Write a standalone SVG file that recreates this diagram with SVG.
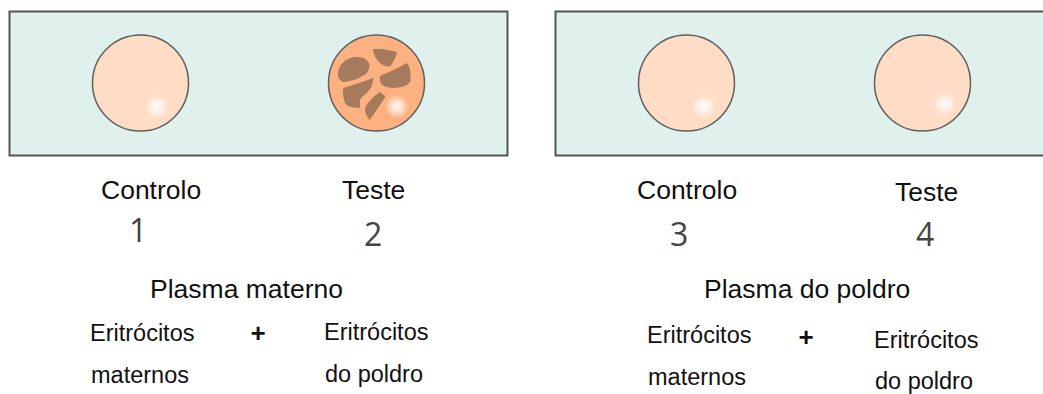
<svg xmlns="http://www.w3.org/2000/svg" width="1043" height="394" viewBox="0 0 1043 394">
  <style>
    .slide { fill: #e0f1ed; stroke: #555; stroke-width: 2; }
    .well { stroke: #5f5f5f; stroke-width: 1.5; }
    .pale { fill: #fedcc6; }
    .react { fill: #fdb181; }
    .clump { fill: #a67a5c; stroke: #a67a5c; stroke-width: 1; stroke-linejoin: round; }
    text { font-family: "Liberation Sans", Arial, sans-serif; fill: #111; }
    .lab { font-size: 26.5px; }
    .small { font-size: 23.5px; }
    .plus { font-size: 26px; font-weight: bold; text-anchor: middle; }
    .num { font-family: "Open Sans", "Noto Sans", sans-serif; font-size: 32px; fill: #444; }
  </style>
  <defs>
    <radialGradient id="shine">
      <stop offset="0" stop-color="#fff" stop-opacity=".9"/>
      <stop offset=".45" stop-color="#fff" stop-opacity=".6"/>
      <stop offset="1" stop-color="#fff" stop-opacity="0"/>
    </radialGradient>
  </defs>
  <g id="slide-left">
    <rect class="slide" x="9.500" y="11.500" width="498" height="144"/>
  </g>
  <g id="slide-right">
    <rect class="slide" x="555.500" y="11.500" width="500" height="144"/>
  </g>
  <g id="well-1">
    <circle class="well pale" cx="140.500" cy="83" r="48"/>
    <circle cx="157" cy="106.500" r="12" fill="url(#shine)"/>
  </g>
  <g id="well-2">
    <circle class="well react" cx="376.500" cy="83" r="48"/>
    <g class="clump">
      <path d="M338.500 73.500C339 65 345 59 355 57.500C363 57 369 60 369 66.500C368 72 365 75 363 75C358 79 350 81 343 81.500C340 80 338 78 338.500 73.500Z"/>
      <path d="M373.500 49.500C380 49 387 50 396.500 52.500C395 58 393 62 390 66C385 66 380 64 378 60C375 57 374 53 373.500 49.500Z"/>
      <path d="M380 76.500C387 73 396 70 406.500 63.500C409 66 410 70 410 75L410 81C408 85 403 87 393 87.500C387 87 380 85 381 82Z"/>
      <path d="M343.500 88.500C350 86 362 83 373 78.500C372 84 371 88 368 91C364 95 360 98 359.500 100L359.500 107.500C355 107 349 107 346 104C344 99 343 94 343.500 88.500Z"/>
      <path d="M365.500 108.500C367.500 103 372 98 380 92.500L385 96.500C381 103 375 112 369.500 119.500C367 116 365.500 112 365.500 108.500Z"/>
    </g>
    <circle cx="397" cy="106.500" r="12" fill="url(#shine)"/>
  </g>
  <g id="well-3">
    <circle class="well pale" cx="686.500" cy="83" r="48"/>
    <circle cx="704" cy="106.500" r="12" fill="url(#shine)"/>
  </g>
  <g id="well-4">
    <circle class="well pale" cx="922.500" cy="83" r="48"/>
    <circle cx="945" cy="104" r="12" fill="url(#shine)"/>
  </g>
  <g id="labels-left">
    <text class="lab" x="101" y="199">Controlo</text>
    <text class="lab" x="342" y="199">Teste</text>
    <text class="num" x="129" y="242">1</text>
    <text class="num" x="364" y="246">2</text>
    <text class="lab" x="150" y="298">Plasma materno</text>
    <text class="small" x="90" y="341">Eritrócitos</text>
    <text class="small" x="91" y="383">maternos</text>
    <text class="plus" x="258" y="342">+</text>
    <text class="small" x="324" y="340">Eritrócitos</text>
    <text class="small" x="325" y="382">do poldro</text>
  </g>
  <g id="labels-right">
    <text class="lab" x="637" y="199">Controlo</text>
    <text class="lab" x="895" y="201">Teste</text>
    <text class="num" x="670" y="246">3</text>
    <text class="num" x="916" y="246">4</text>
    <text class="lab" x="704" y="298">Plasma do poldro</text>
    <text class="small" x="647" y="343">Eritrócitos</text>
    <text class="small" x="648" y="385">maternos</text>
    <text class="plus" x="806" y="346">+</text>
    <text class="small" x="874" y="348">Eritrócitos</text>
    <text class="small" x="875" y="389">do poldro</text>
  </g>
</svg>
